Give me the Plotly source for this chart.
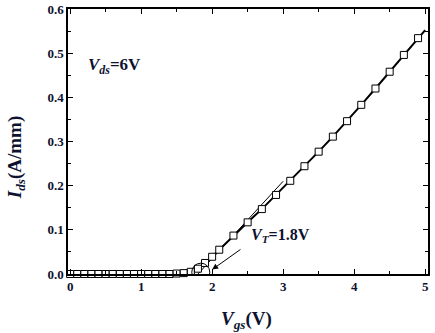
import plotly.graph_objects as go

# Data
vgs = [0.0, 0.1, 0.2, 0.3, 0.4, 0.5, 0.6, 0.7, 0.8, 0.9, 1.0, 1.1, 1.2, 1.3, 1.4,
       1.5, 1.6, 1.7, 1.8, 1.9, 2.0, 2.1, 2.3, 2.5, 2.7, 2.9, 3.1, 3.3, 3.5, 3.7,
       3.9, 4.1, 4.3, 4.5, 4.7, 4.9]
ids = [0.0, 0.0, 0.0, 0.0, 0.0, 0.0, 0.0, 0.0, 0.0, 0.0, 0.0, 0.0, 0.0, 0.0, 0.0,
       0.001, 0.002, 0.005, 0.012, 0.025, 0.039, 0.055, 0.087, 0.117, 0.147, 0.179,
       0.211, 0.244, 0.277, 0.311, 0.346, 0.383, 0.420, 0.458, 0.496, 0.534]
line_end_vgs = 5.0
line_end_ids = 0.552

fit_vgs = [1.8, 3.0]
fit_ids = [0.0, 0.21]

vt = 1.8
x_ticks = [0, 1, 2, 3, 4, 5]
y_ticks = [0.0, 0.1, 0.2, 0.3, 0.4, 0.5, 0.6]
y_tick_labels = ["0.0", "0.1", "0.2", "0.3", "0.4", "0.5", "0.6"]

TXT = "#0e1230"
FONT = "Liberation Serif"

fig = go.Figure()

fig.add_trace(go.Scatter(
    x=fit_vgs, y=fit_ids, mode="lines",
    line=dict(color="black", width=1), showlegend=False, hoverinfo="skip"))

fig.add_trace(go.Scatter(
    x=vgs + [line_end_vgs], y=ids + [line_end_ids], mode="lines",
    line=dict(color="black", width=2), showlegend=False))

fig.add_trace(go.Scatter(
    x=vgs, y=ids, mode="markers",
    marker=dict(symbol="square", size=7, color="white",
                line=dict(color="black", width=1)),
    showlegend=False, cliponaxis=False))

# circle around threshold
cx, cy = 1.84, 0.004
rx, ry = 0.127, 0.0205
fig.add_shape(type="circle", xref="x", yref="y",
              x0=cx - rx, x1=cx + rx, y0=cy - ry, y1=cy + ry,
              line=dict(color="black", width=1))

fig.add_annotation(x=2.0, y=0.010, ax=2.42, ay=0.058, xref="x", yref="y",
                   axref="x", ayref="y", text="", showarrow=True,
                   arrowhead=2, arrowsize=1.2, arrowwidth=1, arrowcolor="black")

fig.add_annotation(x=2.52, y=0.088, xref="x", yref="y", xanchor="left",
                   yanchor="middle", showarrow=False,
                   text="<b><i>V</i><sub><i>T</i></sub>=1.8V</b>",
                   font=dict(family=FONT, size=16, color=TXT))

fig.add_annotation(x=0.22, y=0.472, xref="x", yref="y", xanchor="left",
                   yanchor="middle", showarrow=False,
                   text="<b><i>V</i><sub><i>ds</i></sub>=6V</b>",
                   font=dict(family=FONT, size=17, color=TXT))

# axis titles
fig.add_annotation(x=-0.142, y=0.44, xref="paper", yref="paper",
                   xanchor="center", yanchor="middle", textangle=-90,
                   showarrow=False,
                   text="<b><i>I</i><sub><i>ds</i></sub>(A/mm)</b>",
                   font=dict(family=FONT, size=19, color=TXT))
fig.add_annotation(x=0.497, y=-0.174, xref="paper", yref="paper",
                   xanchor="center", yanchor="middle", showarrow=False,
                   text="<b><i>V</i><sub><i>gs</i></sub>(V)</b>",
                   font=dict(family=FONT, size=19, color=TXT))

axis_common = dict(
    showline=True, linecolor="black", linewidth=1.5, mirror="allticks",
    ticks="inside", ticklen=5, tickwidth=1.2, tickcolor="black",
    showgrid=False, zeroline=False, automargin=False,
    tickfont=dict(family=FONT, size=13, color=TXT, weight="bold"),
)

fig.update_xaxes(
    range=[-0.03, 5.04], tickvals=x_ticks,
    minor=dict(ticks="inside", dtick=0.5, ticklen=3, tickcolor="black", tickwidth=1),
    **axis_common)
fig.update_yaxes(
    range=[0, 0.6], tickvals=y_ticks, ticktext=y_tick_labels,
    minor=dict(ticks="inside", dtick=0.05, ticklen=3, tickcolor="black", tickwidth=1),
    **axis_common)

fig.update_layout(
    width=435, height=333,
    margin=dict(l=68, r=7, t=9, b=59),
    plot_bgcolor="white", paper_bgcolor="white",
)

fig.write_html(
    "out.html",
    config={"displayModeBar": False},
    post_script="document.body.style.margin='0';document.body.style.padding='0';"
                "document.body.style.overflow='hidden';",
)
